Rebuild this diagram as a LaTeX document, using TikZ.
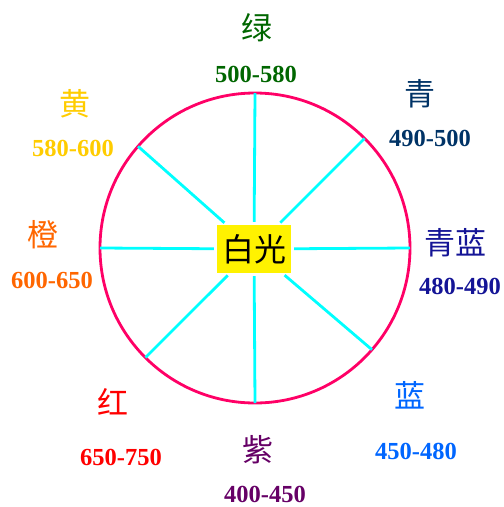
\documentclass[tikz,border=0pt]{standalone}
\usepackage{fontspec}
\setmainfont{Liberation Serif}
\newfontfamily\cjk{Noto Sans CJK SC}
\definecolor{cgreen}{RGB}{0,102,0}
\definecolor{cqing}{RGB}{0,51,102}
\definecolor{cqinglan}{RGB}{20,20,150}
\definecolor{cyellow}{RGB}{255,204,0}
\definecolor{corange}{RGB}{255,102,0}
\definecolor{cred}{RGB}{255,0,0}
\definecolor{cpurple}{RGB}{102,0,102}
\definecolor{cblue}{RGB}{0,102,255}
\definecolor{cring}{RGB}{255,0,102}
\definecolor{cspoke}{RGB}{0,255,255}
\begin{document}
\begin{tikzpicture}[x=1pt,y=-1pt,
  hanzi/.style={inner sep=0, font={\fontsize{31}{33}\selectfont\cjk}},
  band/.style={inner sep=0, font={\fontsize{24.5}{26}\selectfont\bfseries}},
  spoke/.style={draw=cspoke, line width=2.8pt, shorten <=3pt}]
\useasboundingbox (0,0) rectangle (504,507);
\node (ring) [circle, draw=cring, line width=2.8pt, minimum size=310pt, inner sep=0, outer sep=0] at (255,248) {};
\node (box) [fill=yellow, minimum width=74pt, minimum height=48pt, inner sep=0, font={\fontsize{32}{34}\selectfont\cjk}] at (254,249) {白光};
\foreach \a in {0,45,90,139,180,225,270,319} {
  \draw[spoke] (box) -- (ring.\a);
}
\node (lv) [hanzi, text=cgreen] at (257,28) {绿};
\node (lvn) [band, text=cgreen] at (256,74) {500-580};
\node (qing) [hanzi, text=cqing] at (420,94) {青};
\node (qingn) [band, text=cqing] at (430,138) {490-500};
\node (huang) [hanzi, text=cyellow] at (75,104) {黄};
\node (huangn) [band, text=cyellow] at (73,148) {580-600};
\node (cheng) [hanzi, text=corange] at (43,235) {橙};
\node (chengn) [band, text=corange] at (52,280) {600-650};
\node (qinglan) [hanzi, text=cqinglan] at (455,243) {青蓝};
\node (qinglann) [band, text=cqinglan] at (460,286) {480-490};
\node (hong) [hanzi, text=cred] at (113,402) {红};
\node (hongn) [band, text=cred] at (121,457) {650-750};
\node (zi) [hanzi, text=cpurple] at (258,450) {紫};
\node (zin) [band, text=cpurple] at (265,494) {400-450};
\node (lan) [hanzi, text=cblue] at (410,395) {蓝};
\node (lann) [band, text=cblue] at (416,451) {450-480};
\end{tikzpicture}
\end{document}
